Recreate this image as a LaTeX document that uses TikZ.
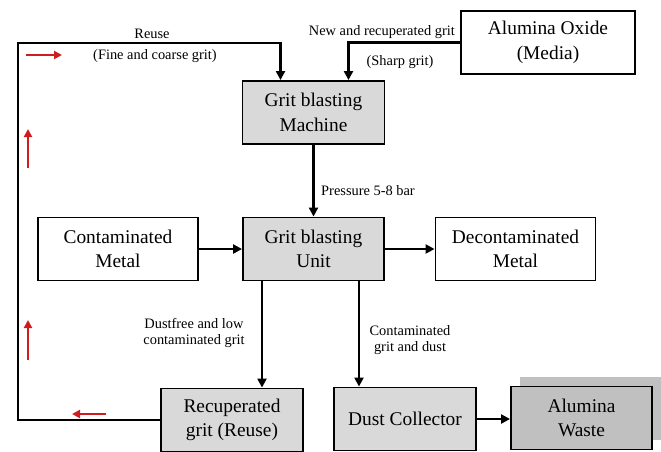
\documentclass[tikz,border=0pt]{standalone}
\usepackage{fontspec}
\setmainfont{Liberation Serif}
\usetikzlibrary{arrows.meta, positioning}
\definecolor{unitgray}{HTML}{D9D9D9}
\definecolor{wastegray}{HTML}{C0C0C0}
\definecolor{flowred}{HTML}{D01C1C}

\begin{document}
\begin{tikzpicture}[
    x=1pt, y=-1pt,
    box/.style={rectangle, draw=black, fill=#1, line width=1.9pt, minimum width=142pt, minimum height=63pt, inner sep=0pt, align=center, font=\fontsize{19.4}{24.5}\selectfont},
    box/.default=white,
    arr/.style={-{Triangle[length=9pt, width=9pt]}, line width=2.4pt},
    lbl/.style={font=\fontsize{14.4}{16.8}\selectfont, align=center, inner sep=0pt},
    flow/.style={-{Triangle[length=8pt, width=8pt]}, line width=2.2pt, flowred},
  ]
  \useasboundingbox (0,0) rectangle (661,451);
  % Nodes
  \node[box=unitgray] (mach) at (313.5,112.5) {Grit blasting\\Machine};
  \node[box, minimum width=174pt] (oxide) at (548,42.5) {Alumina Oxide\\(Media)};
  \node[box=unitgray, minimum width=141pt] (unit) at (313.5,249) {Grit blasting\\Unit};
  \node[box, minimum width=160pt] (cmetal) at (118,249) {Contaminated\\Metal};
  \node[box, minimum width=160pt] (dmetal) at (515.5,249) {Decontaminated\\Metal};
  \node[box=unitgray] (recup) at (232,420) {Recuperated\\grit (Reuse)};
  \node[box=unitgray] (dust) at (405,419) {Dust Collector};
  \node[fill=wastegray, minimum width=143pt, minimum height=63pt] (wasteshade) at (591.5,408.5) {};
  \node[box=wastegray, minimum width=141pt] (waste) at (581.5,418) {Alumina\\Waste};
  \coordinate (loopcorner) at (18,43);

  % Arrows
  \draw[arr] (oxide.west) -| ([xshift=35pt]mach.north);
  \draw[arr] (recup.west) -| (loopcorner) -| ([xshift=-33pt]mach.north);
  \draw[arr] (mach) -- (unit);
  \draw[arr] (cmetal) -- (unit);
  \draw[arr] (unit) -- (dmetal);
  \draw[arr] ([xshift=-51.5pt]unit.south) -- ([xshift=-51.5pt]unit.south |- recup.north);
  \draw[arr] ([xshift=45.5pt]unit.south) -- ([xshift=45.5pt]unit.south |- dust.north);
  \draw[arr] (dust.east) -- (dust.east -| waste.west);

  % Labels
  \node[lbl] (reuse) at (152,34) {Reuse};
  \node[lbl] (finecoarse) at (155,56) {(Fine and coarse grit)};
  \node[lbl, anchor=east] (newgrit) at (455,32) {New and recuperated grit};
  \node[lbl] (sharp) at (400,62) {(Sharp grit)};
  \node[lbl, anchor=west] (press) at (321,191) {Pressure 5-8 bar};
  \node[lbl] (dustfree) at (194,333) {Dustfree and low\\contaminated grit};
  \node[lbl] (contgrit) at (410,340) {Contaminated\\grit and dust};

  % Flow direction
  \foreach \sx/\sy/\ex/\ey in {26/55/62/55, 28/168/28/129, 28/360/28/320, 106/414/72/414}
    \draw[flow] (\sx,\sy) -- (\ex,\ey);
\end{tikzpicture}
\end{document}
